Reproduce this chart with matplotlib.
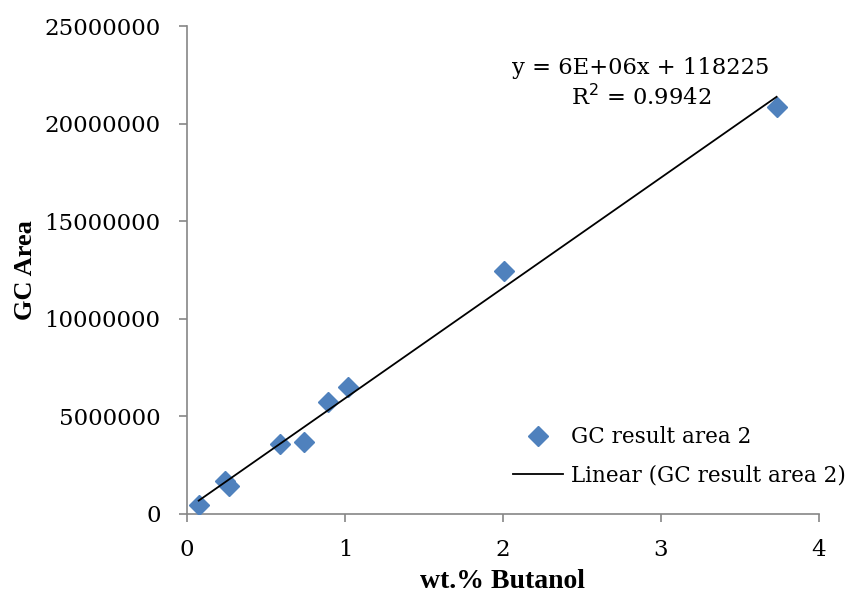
import numpy as np
import matplotlib
matplotlib.use("Agg")
import matplotlib.pyplot as plt

# Butanol calibration: GC peak area vs. weight percent
wt_butanol = [0.074, 0.239, 0.265, 0.589, 0.741, 0.895, 1.022, 2.006, 3.733]
gc_area = [480000, 1700000, 1420000, 3610000, 3710000, 5740000, 6480000, 12470000, 20860000]

x_ticks = [0, 1, 2, 3, 4]
y_ticks = [0, 5000000, 10000000, 15000000, 20000000, 25000000]

series_label = "GC result area 2"
trend_label = "Linear (GC result area 2)"
eq_text = "y = 6E+06x + 118225\nR$^2$ = 0.9942"

tick_font = "DejaVu Serif"
label_font = "Liberation Serif"
axis_grey = "#868686"
marker_blue = "#4F81BD"

fig = plt.figure(figsize=(8.52, 5.98), dpi=100)
ax = fig.add_axes([0.2195, 0.1405, 0.7415, 0.816])

x = np.array(wt_butanol)
y = np.array(gc_area)
ax.plot(x, y, linestyle="none", marker="D", markersize=10,
        color=marker_blue, label=series_label, zorder=3)

slope, intercept = np.polyfit(x, y, 1)
xf = np.array([x.min(), x.max()])
ax.plot(xf, slope * xf + intercept, color="black", linewidth=1.3,
        label=trend_label, zorder=4)

ax.set_xlim(0, 4)
ax.set_ylim(0, 25000000)
ax.set_xticks(x_ticks)
ax.set_yticks(y_ticks)
ax.set_xticklabels([str(v) for v in x_ticks], fontfamily=tick_font, fontsize=16.5)
ax.set_yticklabels([str(v) for v in y_ticks], fontfamily=tick_font, fontsize=16.5)

for side in ("top", "right"):
    ax.spines[side].set_visible(False)
for side in ("left", "bottom"):
    ax.spines[side].set_color(axis_grey)
    ax.spines[side].set_linewidth(1.2)
ax.tick_params(direction="out", length=6, width=1.2, color=axis_grey)
ax.tick_params(axis="y", pad=13)
ax.tick_params(axis="x", pad=12)

ax.set_xlabel("wt.% Butanol", fontfamily=label_font, fontweight="bold",
              fontsize=20, labelpad=6)
ax.set_ylabel("GC Area", fontfamily=label_font, fontweight="bold",
              fontsize=19, labelpad=5.5)

fig.text(0.752, 0.861, eq_text, ha="center", va="center",
         fontfamily=tick_font, fontsize=16.3, linespacing=1.28)

leg = ax.legend(loc="center left", bbox_to_anchor=(0.589, 0.237),
                bbox_transform=fig.transFigure, frameon=False,
                prop={"family": tick_font, "size": 15.5},
                handlelength=2.35, handletextpad=0.35, labelspacing=0.75,
                borderpad=0.0)

fig.savefig("out.png", dpi=100)
